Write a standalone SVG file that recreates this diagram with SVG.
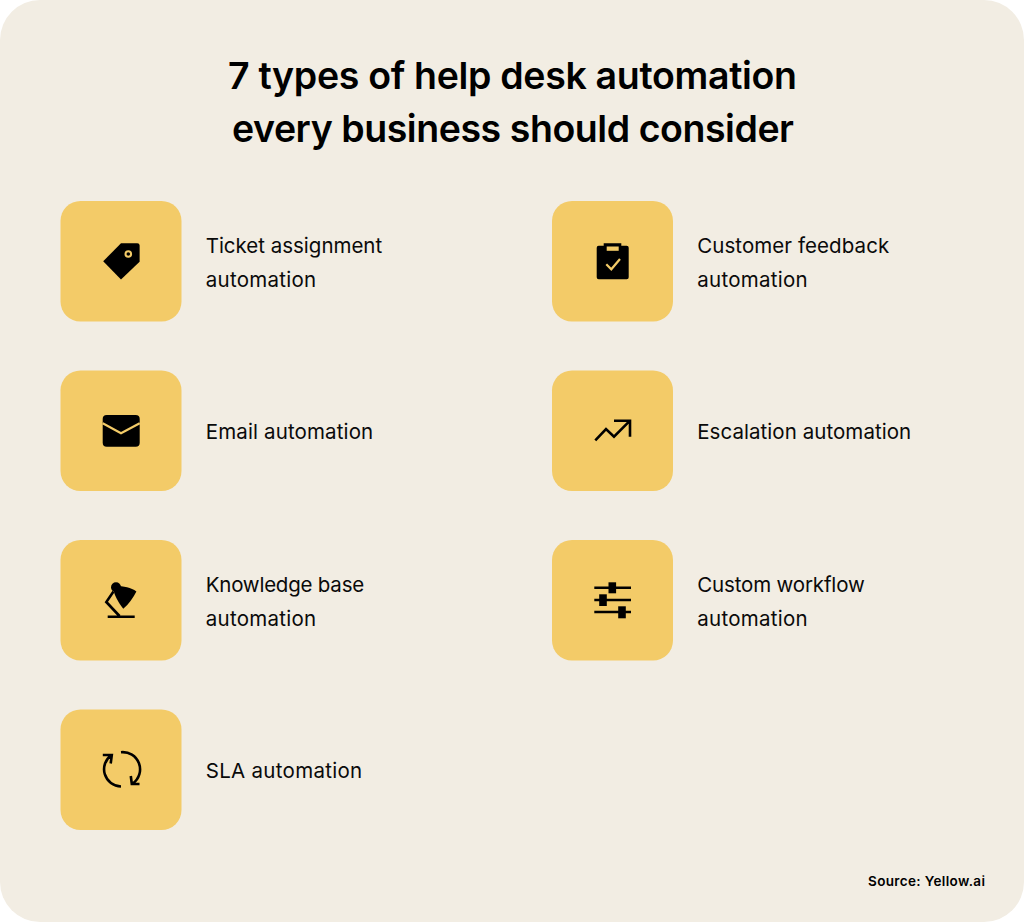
<svg xmlns="http://www.w3.org/2000/svg" width="1024" height="922" viewBox="0 0 1024 922">
<style>
.tile{fill:#f3cb68}
.title{font-family:"Inter","Liberation Sans",sans-serif;font-size:37.5px;font-weight:600;fill:#000}
.label{font-family:"Inter","Liberation Sans",sans-serif;font-size:20.5px;font-weight:400;fill:#0a0a0a}
.src{font-family:"Inter","Liberation Sans",sans-serif;font-size:13.5px;font-weight:600;fill:#000}
.ln{fill:none;stroke:#000;stroke-width:2.6}
.yl{fill:none;stroke:#f3cb68;stroke-width:2.2}
</style>
<rect width="1024" height="922" fill="#fff"/>
<rect width="1024" height="922" rx="40" fill="#f2ede3"/>
<g id="title">
<text class="title" x="228" y="89" textLength="569" lengthAdjust="spacing">7 types of help desk automation</text>
<text class="title" x="232" y="142" textLength="562" lengthAdjust="spacing">every business should consider</text>
</g>
<g id="node-ticket">
<rect class="tile" x="60.5" y="201" width="121" height="120.5" rx="20"/>
<path d="M103.2 261.3L121 243.2H137.3Q139.6 243.2 139.6 245.5V261.7L121 279.6Z" fill="#000"/>
<circle cx="128.3" cy="254" r="2.8" fill="none" stroke="#f3cb68" stroke-width="2"/>
<text class="label" x="205.7" y="253" textLength="176.5" lengthAdjust="spacing">Ticket assignment</text>
<text class="label" x="205.7" y="287" textLength="110.5" lengthAdjust="spacing">automation</text>
</g>
<g id="node-email">
<rect class="tile" x="60.5" y="370.5" width="121" height="120.5" rx="20"/>
<rect x="102.7" y="415" width="37" height="31.7" rx="4" fill="#000"/>
<path class="yl" d="M102.7 423.3L121 433.3L139.7 423.3"/>
<text class="label" x="205.7" y="439" textLength="167.5" lengthAdjust="spacing">Email automation</text>
</g>
<g id="node-knowledge">
<rect class="tile" x="60.5" y="540" width="121" height="120.5" rx="20"/>
<path class="ln" d="M107.7 616.7H134.7M119.5 616L106.3 602L113.5 591.5"/>
<circle cx="116" cy="587.3" r="5" fill="#000"/>
<path d="M115 586C124 586 131 587.5 136.4 591.5C133 598 129 604 123.3 608.7C118 602 114 595 113.5 589Z" fill="#000"/>
<text class="label" x="205.7" y="592" textLength="158.5" lengthAdjust="spacing">Knowledge base</text>
<text class="label" x="205.7" y="626" textLength="110.5" lengthAdjust="spacing">automation</text>
</g>
<g id="node-sla">
<rect class="tile" x="60.5" y="709.5" width="121" height="120.5" rx="20"/>
<path class="ln" d="M121 752.2A17.3 17.3 0 0 1 132.8 783.5M121 786.5A17.3 17.3 0 0 1 111.5 755M102.8 755H111.8L110.7 763.5M130.8 776L131.8 784H139.5"/>
<text class="label" x="205.7" y="778" textLength="156.5" lengthAdjust="spacing">SLA automation</text>
</g>
<g id="node-feedback">
<rect class="tile" x="552" y="201" width="121" height="120.5" rx="20"/>
<path d="M603.7 245.7V243.3H621.3V245.7H626.7Q628.7 245.7 628.7 247.7V277.3Q628.7 279.3 626.7 279.3H598.7Q596.7 279.3 596.7 277.3V247.7Q596.7 245.7 598.7 245.7Z" fill="#000"/>
<rect x="606.7" y="246.5" width="12" height="4.3" fill="#f3cb68"/>
<path class="yl" d="M606.3 264.3L611.3 269.3L620 259"/>
<text class="label" x="697.2" y="253" textLength="192" lengthAdjust="spacing">Customer feedback</text>
<text class="label" x="697.2" y="287" textLength="110.5" lengthAdjust="spacing">automation</text>
</g>
<g id="node-escalation">
<rect class="tile" x="552" y="370.5" width="121" height="120.5" rx="20"/>
<path class="ln" d="M595.3 440.3L606 429L614 436.7L629.5 421.2M614 420.8H630V436.7"/>
<text class="label" x="697.2" y="439" textLength="214" lengthAdjust="spacing">Escalation automation</text>
</g>
<g id="node-workflow">
<rect class="tile" x="552" y="540" width="121" height="120.5" rx="20"/>
<path class="ln" d="M594.3 587.7H631M594.3 600H631M594.3 612H631"/>
<rect x="608.5" y="582.3" width="7.6" height="11" fill="#000"/>
<rect x="599.2" y="594.3" width="7.6" height="11.7" fill="#000"/>
<rect x="618.2" y="606.3" width="7.6" height="12" fill="#000"/>
<text class="label" x="697.2" y="592" textLength="167.5" lengthAdjust="spacing">Custom workflow</text>
<text class="label" x="697.2" y="626" textLength="110.5" lengthAdjust="spacing">automation</text>
</g>
<g id="connectors"></g>
<g id="source">
<text class="src" x="868" y="886" textLength="117" lengthAdjust="spacing">Source: Yellow.ai</text>
</g>
</svg>
